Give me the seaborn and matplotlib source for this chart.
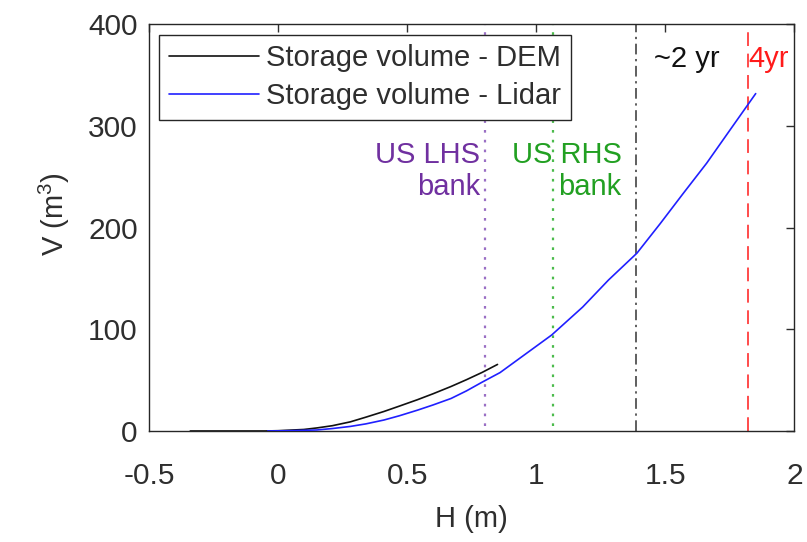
import matplotlib
matplotlib.use("Agg")
import matplotlib.pyplot as plt
import seaborn as sns
import pandas as pd

# Stage-storage curves: water level H (m) vs stored volume V (m^3)
dem_h = [-0.34, -0.20, -0.05, 0.00, 0.10, 0.15, 0.21, 0.28, 0.34, 0.41, 0.47,
         0.54, 0.60, 0.67, 0.73, 0.79, 0.85]
dem_v = [0.0, 0.0, 0.0, 0.3, 1.5, 3.0, 5.2, 9.0, 13.6, 19.2, 24.5,
         30.8, 36.6, 43.8, 50.5, 57.6, 65.5]

lidar_h = [-0.04, 0.05, 0.15, 0.21, 0.28, 0.34, 0.41, 0.47, 0.54, 0.60, 0.67,
           0.73, 0.79, 0.86, 0.96, 1.06, 1.18, 1.28, 1.39, 1.48, 1.57, 1.66,
           1.75, 1.85]
lidar_v = [0.0, 0.3, 1.0, 2.4, 4.5, 7.0, 10.8, 15.0, 20.5, 25.6, 32.0,
           39.5, 48.0, 57.5, 76.0, 94.5, 122.0, 148.6, 175.0, 204.0, 234.0,
           263.5, 296.0, 332.0]

series_names = ["Storage volume - DEM", "Storage volume - Lidar"]

# Reference levels
bank_lhs_h = 0.80
bank_rhs_h = 1.064
flood_2yr_h = 1.386
flood_4yr_h = 1.819

x_ticks = [-0.5, 0, 0.5, 1, 1.5, 2]
y_ticks = [0, 100, 200, 300, 400]

sns.set_theme(style="white")
plt.rcParams["font.family"] = ["Liberation Sans", "DejaVu Sans"]
plt.rcParams["mathtext.fontset"] = "custom"
plt.rcParams["mathtext.rm"] = "Liberation Sans"

df = pd.concat([
    pd.DataFrame({"H": dem_h, "V": dem_v, "series": series_names[0]}),
    pd.DataFrame({"H": lidar_h, "V": lidar_v, "series": series_names[1]}),
])

fig = plt.figure(figsize=(8.07, 5.42), dpi=100)
ax = fig.add_axes([0.1846, 0.2048, 0.7998, 0.75])

purple = "#7030a0"
green = "#22a022"
red = "#ff1a1a"
txt = "#2e2e2e"
fs = 21

# Bank and flood-level markers
ax.vlines(bank_lhs_h, 5, 400, colors="#9a6fc4", linestyles=(0, (1.2, 3.2)), lw=1.6, zorder=1)
ax.vlines(bank_rhs_h, 5, 400, colors="#4cbb4c", linestyles=(0, (1.2, 3.2)), lw=1.6, zorder=1)
ax.axvline(flood_2yr_h, color="#333333", linestyle=(0, (7, 3, 1.5, 3)), lw=1.1, zorder=1)
ax.axvline(flood_4yr_h, color=red, linestyle=(0, (9, 5)), lw=1.1, zorder=1)

sns.lineplot(data=df, x="H", y="V", hue="series",
             palette={series_names[0]: "#111111", series_names[1]: "#2020ff"},
             lw=1.2, ax=ax, sort=False, estimator=None, zorder=3)

ax.set_xlim(-0.5, 2)
ax.set_ylim(0, 400)
ax.set_xticks(x_ticks)
ax.set_xticklabels([f"{t:g}" for t in x_ticks])
ax.set_yticks(y_ticks)

ax.tick_params(axis="both", direction="in", length=6, width=1, colors=txt,
               labelsize=21.5, top=True, right=True, labelcolor=txt)
ax.tick_params(axis="x", pad=22)
ax.tick_params(axis="y", pad=8)
for s in ax.spines.values():
    s.set_color("#262626")
    s.set_linewidth(1.0)

ax.set_xlabel("H (m)", fontsize=fs, color=txt)
ax.set_ylabel("V (m$^3$)", fontsize=fs, color=txt)
ax.xaxis.set_label_coords(0.5, -0.216)
ax.yaxis.set_label_coords(-0.147, 0.534)
ax.xaxis.label.set_va("center")
ax.yaxis.label.set_va("center")

ax.text(0.782, 256, "US LHS\nbank", color=purple, fontsize=fs, ha="right",
        va="center", linespacing=1.2, zorder=4)
ax.text(1.33, 256, "US RHS\nbank", color=green, fontsize=fs, ha="right",
        va="center", linespacing=1.2, zorder=4)
ax.text(1.457, 366, "~2 yr", color="#111111", fontsize=fs, ha="left", va="center", zorder=4)
ax.text(1.822, 366, "4yr", color=red, fontsize=fs, ha="left", va="center", zorder=4)

leg = ax.legend(loc="upper left", fontsize=fs, frameon=True, fancybox=False,
                framealpha=1, edgecolor="#262626", handlelength=3.1,
                handletextpad=0.25, borderpad=0.32, labelspacing=0.35,
                borderaxespad=0.35)
leg.get_frame().set_linewidth(1.0)
leg.set_zorder(10)
for t in leg.get_texts():
    t.set_color(txt)

fig.savefig("out.png", dpi=100)
